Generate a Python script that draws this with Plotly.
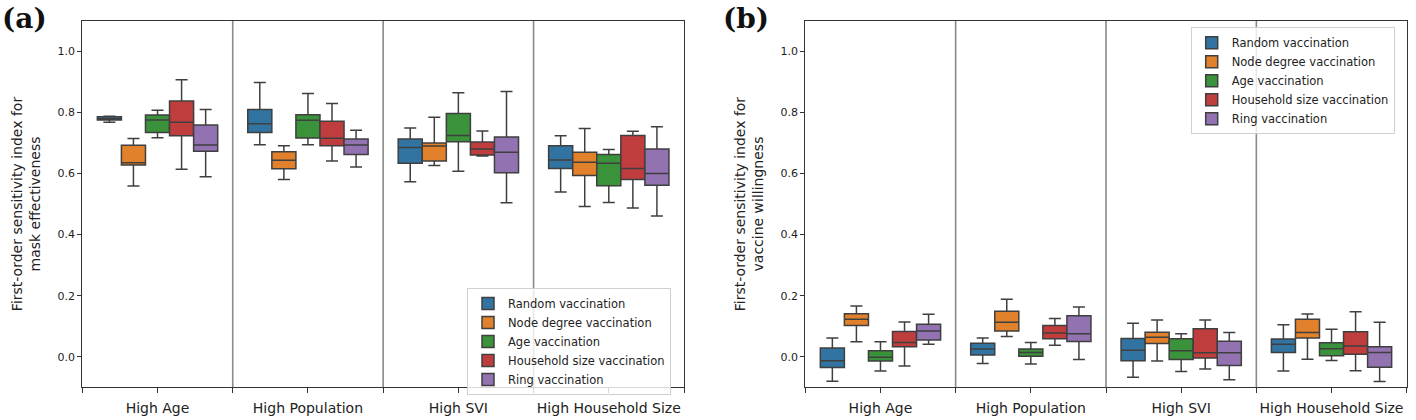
import plotly.graph_objects as go

categories = ["High Age", "High Population", "High SVI", "High Household Size"]
series = ["Random vaccination", "Node degree vaccination", "Age vaccination",
          "Household size vaccination", "Ring vaccination"]
colors = ["#3274a1", "#e1812c", "#3a923a", "#c03d3e", "#9372b2"]

# Panel (a): mask effectiveness  [lowerfence, q1, median, q3, upperfence] per category
mask_random = [[0.768, 0.775, 0.779, 0.786, 0.787], [0.694, 0.734, 0.763, 0.809, 0.898],
               [0.573, 0.633, 0.685, 0.713, 0.749], [0.539, 0.616, 0.644, 0.691, 0.723]]
mask_degree = [[0.559, 0.628, 0.635, 0.692, 0.714], [0.580, 0.615, 0.643, 0.671, 0.691],
               [0.626, 0.641, 0.690, 0.700, 0.784], [0.492, 0.593, 0.637, 0.669, 0.747]]
mask_age = [[0.717, 0.734, 0.775, 0.791, 0.807], [0.694, 0.716, 0.774, 0.792, 0.862],
            [0.607, 0.704, 0.724, 0.796, 0.864], [0.505, 0.560, 0.633, 0.662, 0.678]]
mask_household = [[0.614, 0.723, 0.768, 0.837, 0.907], [0.641, 0.691, 0.715, 0.771, 0.829],
                  [0.657, 0.660, 0.680, 0.703, 0.739], [0.487, 0.580, 0.616, 0.724, 0.738]]
mask_ring = [[0.589, 0.673, 0.693, 0.759, 0.809], [0.621, 0.662, 0.693, 0.713, 0.741],
             [0.504, 0.602, 0.669, 0.719, 0.868], [0.461, 0.561, 0.600, 0.680, 0.753]]

# Panel (b): vaccine willingness
vacc_random = [[-0.080, -0.035, -0.013, 0.029, 0.061], [-0.022, 0.006, 0.025, 0.044, 0.061],
               [-0.067, -0.013, 0.021, 0.060, 0.110], [-0.047, 0.014, 0.041, 0.058, 0.105]]
vacc_degree = [[0.049, 0.102, 0.123, 0.141, 0.166], [0.066, 0.084, 0.113, 0.149, 0.188],
               [-0.014, 0.043, 0.064, 0.080, 0.120], [-0.008, 0.061, 0.079, 0.123, 0.140]]
vacc_age = [[-0.047, -0.014, -0.002, 0.020, 0.049], [-0.024, 0.002, 0.014, 0.025, 0.047],
            [-0.048, -0.009, 0.020, 0.059, 0.075], [-0.012, 0.003, 0.026, 0.046, 0.090]]
vacc_household = [[-0.030, 0.033, 0.047, 0.083, 0.114], [0.038, 0.059, 0.078, 0.102, 0.125],
                  [-0.040, -0.004, 0.013, 0.092, 0.120], [-0.046, 0.008, 0.035, 0.082, 0.147]]
vacc_ring = [[0.041, 0.055, 0.084, 0.106, 0.139], [-0.009, 0.050, 0.075, 0.134, 0.163],
             [-0.075, -0.029, 0.013, 0.051, 0.079], [-0.081, -0.034, 0.014, 0.033, 0.113]]

mask_data = [mask_random, mask_degree, mask_age, mask_household, mask_ring]
vacc_data = [vacc_random, vacc_degree, vacc_age, vacc_household, vacc_ring]

FONT = "DejaVu Sans"
EDGE = "#3f3f3f"
fig = go.Figure()
xpos = list(range(len(categories)))

for panel, (data, xa, ya, leg) in enumerate([(mask_data, "x", "y", "legend"),
                                               (vacc_data, "x2", "y2", "legend2")]):
    for name, col, stats in zip(series, colors, data):
        fig.add_trace(go.Box(
            x=xpos,
            lowerfence=[s[0] for s in stats], q1=[s[1] for s in stats],
            median=[s[2] for s in stats], q3=[s[3] for s in stats],
            upperfence=[s[4] for s in stats],
            name=name, fillcolor=col, line=dict(color=EDGE, width=1.5),
            whiskerwidth=0.5, boxpoints=False, xaxis=xa, yaxis=ya,
            legend=leg, offsetgroup=name, hoverinfo="skip",
        ))

ydom = [1 - 387.3 / 420, 1 - 20.7 / 420]
xdoms = [[82.3 / 1416, 684 / 1416], [805.3 / 1416, 1406.7 / 1416]]
ytitles = ["First-order sensitivity index for<br>mask effectiveness",
           "First-order sensitivity index for<br>vaccine willingness"]

def xaxis(dom, anchor):
    return dict(domain=dom, anchor=anchor, range=[-0.5, 3.5], tickmode="array",
                tickvals=xpos, ticktext=categories, ticks="outside", ticklen=5,
                tickwidth=1, tickcolor="#333", showline=True, linecolor="#333",
                linewidth=1, mirror=True, showgrid=False, zeroline=False,
                ticklabelstandoff=3,
                tickfont=dict(family=FONT, size=14, color="#222"),
                minor=dict(tickmode="array", tickvals=[-0.5, 0.5, 1.5, 2.5, 3.5],
                           ticks="outside", ticklen=5, tickwidth=1, tickcolor="#333",
                           showgrid=False))

def yaxis(anchor, title):
    return dict(domain=ydom, anchor=anchor, range=[-0.1, 1.1], tickmode="array",
                tickvals=[0, 0.2, 0.4, 0.6, 0.8, 1.0], tickformat=".1f", ticks="outside",
                ticklen=4, tickwidth=1, tickcolor="#333", showline=True, linecolor="#333",
                linewidth=1, mirror=True, showgrid=False, zeroline=False,
                tickfont=dict(family=FONT, size=11, color="#222"),
                title=dict(text=title, standoff=13,
                           font=dict(family=FONT, size=14, color="#222")))

shapes = []
for xr in ["x", "x2"]:
    for b in [0.5, 1.5, 2.5]:
        shapes.append(dict(type="line", xref=xr, yref=("y domain" if xr == "x" else "y2 domain"),
                           x0=b, x1=b, y0=0, y1=1, line=dict(color="#8a8a8a", width=1.6),
                           layer="below"))

legend_style = dict(bgcolor="rgba(255,255,255,0.8)", bordercolor="#d0d0d0", borderwidth=1,
                    font=dict(family=FONT, size=11.5, color="#222"),
                    xanchor="left", yanchor="top", tracegroupgap=0, itemwidth=30)

fig.update_layout(
    width=1416, height=420, margin=dict(l=0, r=0, t=0, b=0),
    paper_bgcolor="white", plot_bgcolor="white",
    boxmode="group", boxgap=0.2, boxgroupgap=0,
    xaxis=xaxis(xdoms[0], "y"), yaxis=yaxis("x", ytitles[0]),
    xaxis2=xaxis(xdoms[1], "y2"), yaxis2=yaxis("x2", ytitles[1]),
    shapes=shapes,
    legend=dict(x=467 / 1416, y=1 - 288 / 420, **legend_style),
    legend2=dict(x=1190.7 / 1416, y=1 - 27.3 / 420, **legend_style),
    annotations=[
        dict(text="<b>(a)</b>", xref="paper", yref="paper", x=0, y=1,
             xanchor="left", yanchor="top", showarrow=False,
             font=dict(family="DejaVu Serif", size=28, color="#111")),
        dict(text="<b>(b)</b>", xref="paper", yref="paper", x=721 / 1416, y=1,
             xanchor="left", yanchor="top", showarrow=False,
             font=dict(family="DejaVu Serif", size=28, color="#111")),
    ],
    showlegend=True,
)

fig.write_html("out.html", config={"displayModeBar": False},
               post_script="document.body.style.margin='0';document.body.style.overflow='hidden';")
